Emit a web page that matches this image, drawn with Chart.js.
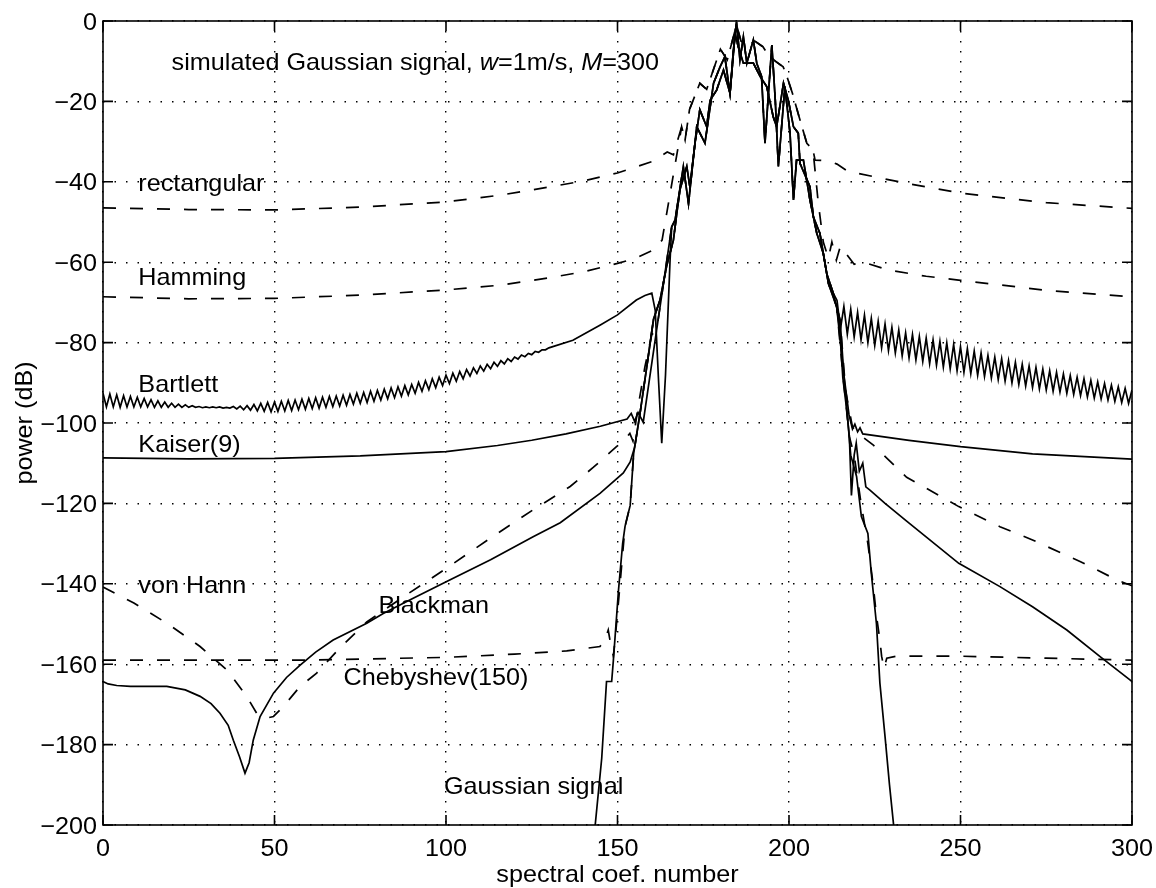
<!DOCTYPE html>
<html>
<head>
<meta charset="utf-8">
<script src="https://cdn.jsdelivr.net/npm/chart.js@4.4.1/dist/chart.umd.min.js"></script>
<style>
    html, body { margin: 0; padding: 0; background: #fff; }
    #spectra { width: 1156px; height: 888px; }
</style>
</head>
<body>
<div id="spectra"><canvas id="cnv_spectra" width="1156" height="888"></canvas></div>
<script>
// axis ticks
const xTicks = [0, 50, 100, 150, 200, 250, 300]
const yTicks = [0, -20, -40, -60, -80, -100, -120, -140, -160, -180, -200]

const peakMain = [[160,-76.9],[162.4,-69.4],[164.3,-61.1],[166.3,-54.5],[167.3,-47.8],[168.2,-42],[170.2,-36.2],[171.1,-41.2],[172.6,-30.4],[174,-22.1],[176,-26.3],[177,-19.7],[178.9,-17.2],[180.9,-12.2],[182.8,-18],[183.8,-7.2],[184.7,-0.2],[185.7,-9.7],[186.7,-3.9],[187.7,-10.5],[189.6,-4.7],[190.6,-10.5],[192,-13.8],[193,-30.4],[195,-6],[196,-19.7],[196.9,-36.2],[198.8,-16.3],[200.3,-27.9],[201.3,-44.5],[202.2,-34.6],[204.2,-34.6],[206.1,-44.5],[208.1,-52.8],[210,-57.8],[211.5,-65.3],[213.9,-71.1]]
const peakAlt = [[161.4,-76.9],[163.4,-65.3],[165.8,-51.2],[166.8,-49.5],[169.2,-36.2],[170.7,-45.4],[173.1,-26.3],[175.5,-30.4],[178,-15.5],[179.9,-11.4],[181.3,-8.9],[182.8,-18],[184.3,-3.1],[185.2,-6.4],[186.7,-10.5],[189.6,-10.5],[191.6,-13.8],[193.5,-16.3],[195.4,-23.8],[196.4,-26.3],[198.4,-15.5],[199.8,-19.7],[201.3,-26.3],[202.7,-27.9],[203.2,-35.4],[206.1,-41.2],[207.1,-48.7],[209,-52.8],[211,-62.8],[212.9,-67.7],[214.9,-74.4]]
const peakDash = [[168.7,-26.3],[169.7,-29.6],[171,-22],[174,-15.5],[176,-17],[178,-12],[180,-7],[182,-9.7],[184.7,-1],[186,-5],[188,-6],[190,-5],[192.4,-6.4],[193.6,-8],[196,-10],[198.3,-11.4],[199.4,-13.8],[201,-18],[203,-24],[205.2,-30.4],[207,-32.1]]

// windows, left and right skirts
const rectLeft = [[0,-46.5],[25,-46.9],[50,-47],[75,-46.3],[100,-45],[116,-43.3],[130,-41.3],[140,-39.8],[150,-37.8],[160,-35],[164.5,-32.6],[166.3,-33.3]]
const rectRight = [[207.6,-34.6],[211.5,-34.8],[214,-35.6],[217.3,-37.5],[220,-37.9],[234.3,-40.4],[250,-42.8],[275,-45.2],[300,-46.6]]

const hammingLeft = [[0,-68.6],[25,-69.1],[50,-69],[75,-68.2],[100,-66.9],[116,-65.7],[130,-63.9],[140,-62.4],[150,-60.3],[155,-59.1],[160.4,-57],[163,-54.5]]
const hammingRight = [[208.5,-45],[210,-55],[211.5,-59],[212.5,-55],[213.8,-59.5],[215,-56],[216.3,-57.5],[219,-60.5],[221.6,-60],[229.3,-62],[240,-63.5],[250,-64.5],[275,-67],[300,-68.6]]

const bartlettLeft = [
    -92.6, -96.0, -92.8, -96.0, -93.0, -96.1, -93.2, -96.0, -93.4, -96.0,
    -93.6, -96.0, -93.9, -96.0, -94.2, -96.1, -94.5, -96.1, -94.8, -96.1,
    -95.1, -96.1, -95.3, -96.1, -95.5, -96.1, -95.7, -96.1, -95.9, -96.2,
    -96.0, -96.2, -96.0, -96.2, -96.0, -96.3, -96.1, -96.3, -95.9, -96.5,
    -95.8, -96.7, -95.7, -96.8, -95.4, -97.0, -95.1, -97.1, -94.9, -97.2,
    -94.8, -97.1, -94.6, -97.0, -94.4, -96.9, -94.3, -96.7, -94.1, -96.6,
    -93.9, -96.4, -93.7, -96.3, -93.6, -96.1, -93.4, -95.9, -93.3, -95.8,
    -93.1, -95.6, -92.9, -95.3, -92.6, -95.1, -92.4, -94.9, -92.1, -94.6,
    -91.9, -94.3, -91.6, -94.0, -91.3, -93.7, -91.0, -93.3, -90.7, -93.0,
    -90.4, -92.6, -89.9, -92.1, -89.5, -91.7, -89.0, -91.2, -88.6, -90.7,
    -88.1, -90.2, -87.6, -89.6, -87.2, -89.0, -86.7, -88.3, -86.3, -87.7,
    -85.8, -87.1, -85.4, -86.5, -84.9, -85.9, -84.5, -85.3, -84.0, -84.7,
    -83.6, -84.1, -83.1, -83.5, -82.7, -83.0, -82.2, -82.4, -81.8, -81.8,
    -81.3
]
const bartlettMid = [[137,-79.4],[145,-75.6],[150,-73.1],[155.5,-69.4],[158,-68.3],[160,-67.7],[161,-72],[162,-90],[162.9,-105],[164,-88],[165.3,-60]]
const bartlettRight = [
    -69.5, -76.6, -71.0, -77.9, -71.7, -78.6, -72.5, -79.3, -73.2, -80.0,
    -74.0, -80.7, -74.7, -81.3, -75.4, -82.0, -76.2, -82.6, -76.9, -83.3,
    -77.6, -83.8, -78.0, -84.3, -78.5, -84.7, -78.9, -85.2, -79.3, -85.6,
    -79.7, -86.1, -80.1, -86.5, -80.5, -87.0, -81.0, -87.4, -81.5, -87.7,
    -82.1, -88.1, -82.6, -88.4, -83.2, -88.8, -83.6, -89.2, -84.0, -89.6,
    -84.5, -90.0, -84.9, -90.4, -85.4, -90.8, -85.8, -91.2, -86.2, -91.5,
    -86.6, -91.8, -87.0, -92.1, -87.4, -92.3, -87.8, -92.6, -88.2, -92.9,
    -88.6, -93.2, -89.0, -93.5, -89.4, -93.8, -89.8, -94.0, -90.2, -94.3,
    -90.6, -94.6, -91.0, -94.9, -91.4, -95.1, -91.8
]

const kaiserLeft = [[0,-108.7],[25,-108.9],[50,-108.8],[75,-108.2],[100,-107.1],[115,-105.6],[125,-104.3],[135,-102.7],[145,-100.8],[152.8,-99],[154,-97.6],[155,-99.6],[156,-97.4],[157.5,-99.8],[159.5,-88]]
const kaiserRight = [[216,-88],[217.5,-98],[218.5,-101.5],[219.2,-100.3],[220,-102.2],[220.7,-101.2],[221.5,-102.7],[235,-104.3],[250,-105.9],[271,-107.7],[300,-109]]

const hannLeft = [[0,-140.8],[9,-144.8],[18.6,-149.8],[28.3,-155.6],[36.1,-161.4],[41.9,-168],[44.8,-172.2],[47.7,-173.4],[49.7,-173],[52.5,-170.6],[57.4,-165.6],[62.3,-162.2],[69,-156],[76.9,-149.5],[88,-143],[100.2,-136.1],[113,-128.6],[125.4,-121.6],[136.2,-115.8],[143,-111],[149.7,-105.9],[152,-104.2],[153.6,-102.6],[154.5,-104.5],[156,-96],[158,-86],[160,-78]]
const hannRight = [[216.5,-92],[218.5,-101],[220,-102.5],[224.6,-105.5],[234.3,-113.5],[249.5,-120.8],[261.5,-125.8],[271,-129.1],[285,-134.5],[295.5,-139],[300,-140.5]]

const blackmanLeft = [[0,-164.3],[1.5,-164.9],[4,-165.3],[8,-165.5],[18.6,-165.5],[24,-166.4],[28.3,-168],[31.5,-169.8],[34.1,-172.2],[36.5,-175.2],[38,-178.9],[39.8,-183],[41.4,-187.1],[42.6,-184.5],[43.8,-178.9],[45.8,-173],[49.7,-167.2],[53.5,-163.3],[57.4,-160.3],[62,-157],[67.1,-154],[76.9,-149.8],[81.7,-147.4],[90,-143.8],[100.2,-139.4],[113,-134],[125.4,-128.3],[133.3,-124.8],[144.9,-117.5],[151.7,-112.4],[153.7,-109.7],[155,-106],[156.6,-97.4],[158.5,-86.2],[160.5,-74.2]]
const blackmanRight = [[215,-80],[216,-88],[217.2,-100],[217.6,-103.4],[218.2,-118],[219,-108],[219.6,-105],[220.5,-112],[221.5,-110],[222.4,-115.9],[223.6,-116.7],[228,-120],[234.3,-124.4],[249.5,-134.9],[261.5,-140.7],[271,-145.7],[281,-151.5],[290.7,-158.1],[299.4,-163.9],[300,-164.3]]

const chebLeft = [[0,-159],[57.4,-159],[100.2,-158.3],[120,-157.5],[135.2,-156.7],[144.9,-155.6],[146.5,-153.5],[147.3,-151.5],[148,-155],[148.8,-158],[149.5,-152],[150.8,-139.5],[152.2,-125.7],[153.7,-120.5],[154.7,-107.7],[156.6,-97.4],[158.5,-86.2],[160.5,-74.2]]
const chebRight = [[215.8,-88.8],[217.6,-103.4],[219,-108],[221,-120],[223,-130],[224.5,-140],[225.5,-148],[226.5,-154],[227,-158],[227.7,-161],[228.5,-158.5],[231.4,-158],[250,-158],[275,-158.5],[300,-159]]

const gaussLeft = [[143.5,-200],[145.4,-183.4],[146.8,-164.3],[148.3,-164.3],[148.8,-159],[150.3,-141.5],[151.5,-130],[152.2,-125.7],[153.7,-120.5],[154.7,-107.7],[156.6,-97.4],[158.5,-86.2],[160.5,-74.2]]
const gaussRight = [[214.8,-77],[215.7,-88.8],[217,-98],[218,-108],[219.7,-113.3],[221.1,-123.3],[223,-127.5],[224,-137.4],[225.5,-150],[226.5,-164.7],[228,-178],[229.3,-190],[230.5,-200]]

// text on the plot (data coordinates)
const notes = [
    { text: 'rectangular', x: 10.3, y: -42.3 },
    { text: 'Hamming', x: 10.3, y: -65.7 },
    { text: 'Bartlett', x: 10.3, y: -92.2 },
    { text: 'Kaiser(9)', x: 10.3, y: -107.1 },
    { text: 'von Hann', x: 10.3, y: -142.4 },
    { text: 'Blackman', x: 80.3, y: -147.3 },
    { text: 'Chebyshev(150)', x: 70.1, y: -165.2 },
    { text: 'Gaussian signal', x: 99.4, y: -192.4 }
]
const titleParts = [['simulated Gaussian signal, ', false], ['w', true], ['=1m/s, ', false], ['M', true], ['=300', false]]

const FONT = '"Liberation Sans", Arial, Helvetica, sans-serif'
const FS = 24
const SX = 1.05

// left skirt + peak + right skirt
const joinPeak = (left, peak, right) => {
    const a = left[left.length - 1][0], b = right[0][0]
    return [...left, ...peak.filter(p => p[0] > a && p[0] < b), ...right].map(([x, y]) => ({ x, y }))
}
const bartlett = joinPeak(
    [...bartlettLeft.map((y, i) => [i, y]), ...bartlettMid],
    peakAlt,
    bartlettRight.map((y, i) => [214 + i, y])
)

const line = (pts, dashed) => ({
    data: pts,
    borderColor: '#000',
    borderWidth: 1.7,
    borderDash: dashed ? [13, 14] : [],
    pointRadius: 0,
    tension: 0,
    fill: false
})

const minus = v => v < 0 ? '\u2212' + Math.abs(v) : String(v)

const stretched = (ctx, str, x, y, align, rot) => {
    ctx.save()
    ctx.translate(x, y)
    if (rot) ctx.rotate(rot)
    ctx.scale(SX, 1)
    ctx.textAlign = align
    ctx.fillText(str, 0, 0)
    ctx.restore()
}

const framePlugin = {
    id: 'frame',
    afterDraw(chart) {
        const { ctx, chartArea: ca, scales: { x, y } } = chart
        ctx.save()
        // box + inward ticks
        ctx.strokeStyle = '#000'
        ctx.lineWidth = 1.6
        ctx.strokeRect(ca.left, ca.top, ca.right - ca.left, ca.bottom - ca.top)
        ctx.beginPath()
        xTicks.forEach(v => {
            const px = x.getPixelForValue(v)
            ctx.moveTo(px, ca.bottom); ctx.lineTo(px, ca.bottom - 10)
            ctx.moveTo(px, ca.top); ctx.lineTo(px, ca.top + 10)
        })
        yTicks.forEach(v => {
            const py = y.getPixelForValue(v)
            ctx.moveTo(ca.left, py); ctx.lineTo(ca.left + 10, py)
            ctx.moveTo(ca.right, py); ctx.lineTo(ca.right - 10, py)
        })
        ctx.stroke()

        ctx.fillStyle = '#000'
        ctx.textBaseline = 'alphabetic'
        ctx.font = `${FS}px ${FONT}`
        // tick labels
        yTicks.forEach(v => stretched(ctx, minus(v), ca.left - 6, y.getPixelForValue(v) + 8.5, 'right'))
        xTicks.forEach(v => stretched(ctx, String(v), x.getPixelForValue(v), ca.bottom + 31, 'center'))
        // axis titles
        stretched(ctx, 'spectral coef. number', (ca.left + ca.right) / 2, ca.bottom + 57, 'center')
        stretched(ctx, 'power (dB)', 32, (ca.top + ca.bottom) / 2, 'center', -Math.PI / 2)
        // curve labels
        notes.forEach(n => stretched(ctx, n.text, x.getPixelForValue(n.x), y.getPixelForValue(n.y), 'left'))
        // heading with italic symbols
        let hx = x.getPixelForValue(20)
        const hy = y.getPixelForValue(-12.2)
        titleParts.forEach(([s, it]) => {
            ctx.font = `${it ? 'italic ' : ''}${FS}px ${FONT}`
            stretched(ctx, s, hx, hy, 'left')
            hx += ctx.measureText(s).width * SX
        })
        ctx.restore()
    }
}

const ctx = document.getElementById('cnv_spectra').getContext('2d')
const spectraChart = new Chart(ctx, {
    type: 'line',
    plugins: [framePlugin],
    data: {
        datasets: [
            line(joinPeak(rectLeft, peakDash, rectRight), true),
            line(joinPeak(hammingLeft, peakDash, hammingRight), true),
            line(bartlett, false),
            line(joinPeak(kaiserLeft, peakAlt, kaiserRight), false),
            line(joinPeak(hannLeft, peakAlt, hannRight), true),
            line(joinPeak(blackmanLeft, peakMain, blackmanRight), false),
            line(joinPeak(chebLeft, peakMain, chebRight), true),
            line(joinPeak(gaussLeft, peakMain, gaussRight), false)
        ]
    },
    options: {
        responsive: false,
        animation: false,
        devicePixelRatio: 1,
        layout: { padding: { left: 0, right: 24, top: 21, bottom: 0 } },
        plugins: { legend: { display: false }, tooltip: { enabled: false } },
        scales: {
            x: {
                type: 'linear',
                min: 0,
                max: 300,
                afterBuildTicks: s => { s.ticks = xTicks.map(v => ({ value: v })) },
                afterFit: s => { s.height = 63 },
                ticks: { display: false },
                grid: { color: '#000', lineWidth: 1.4, drawTicks: false },
                border: { display: false, dash: [1.5, 8.5] }
            },
            y: {
                type: 'linear',
                min: -200,
                max: 0,
                afterBuildTicks: s => { s.ticks = yTicks.map(v => ({ value: v })) },
                afterFit: s => { s.width = 103 },
                ticks: { display: false },
                grid: { color: '#000', lineWidth: 1.4, drawTicks: false },
                border: { display: false, dash: [1.5, 10] }
            }
        }
    }
})
</script>
</body>
</html>
